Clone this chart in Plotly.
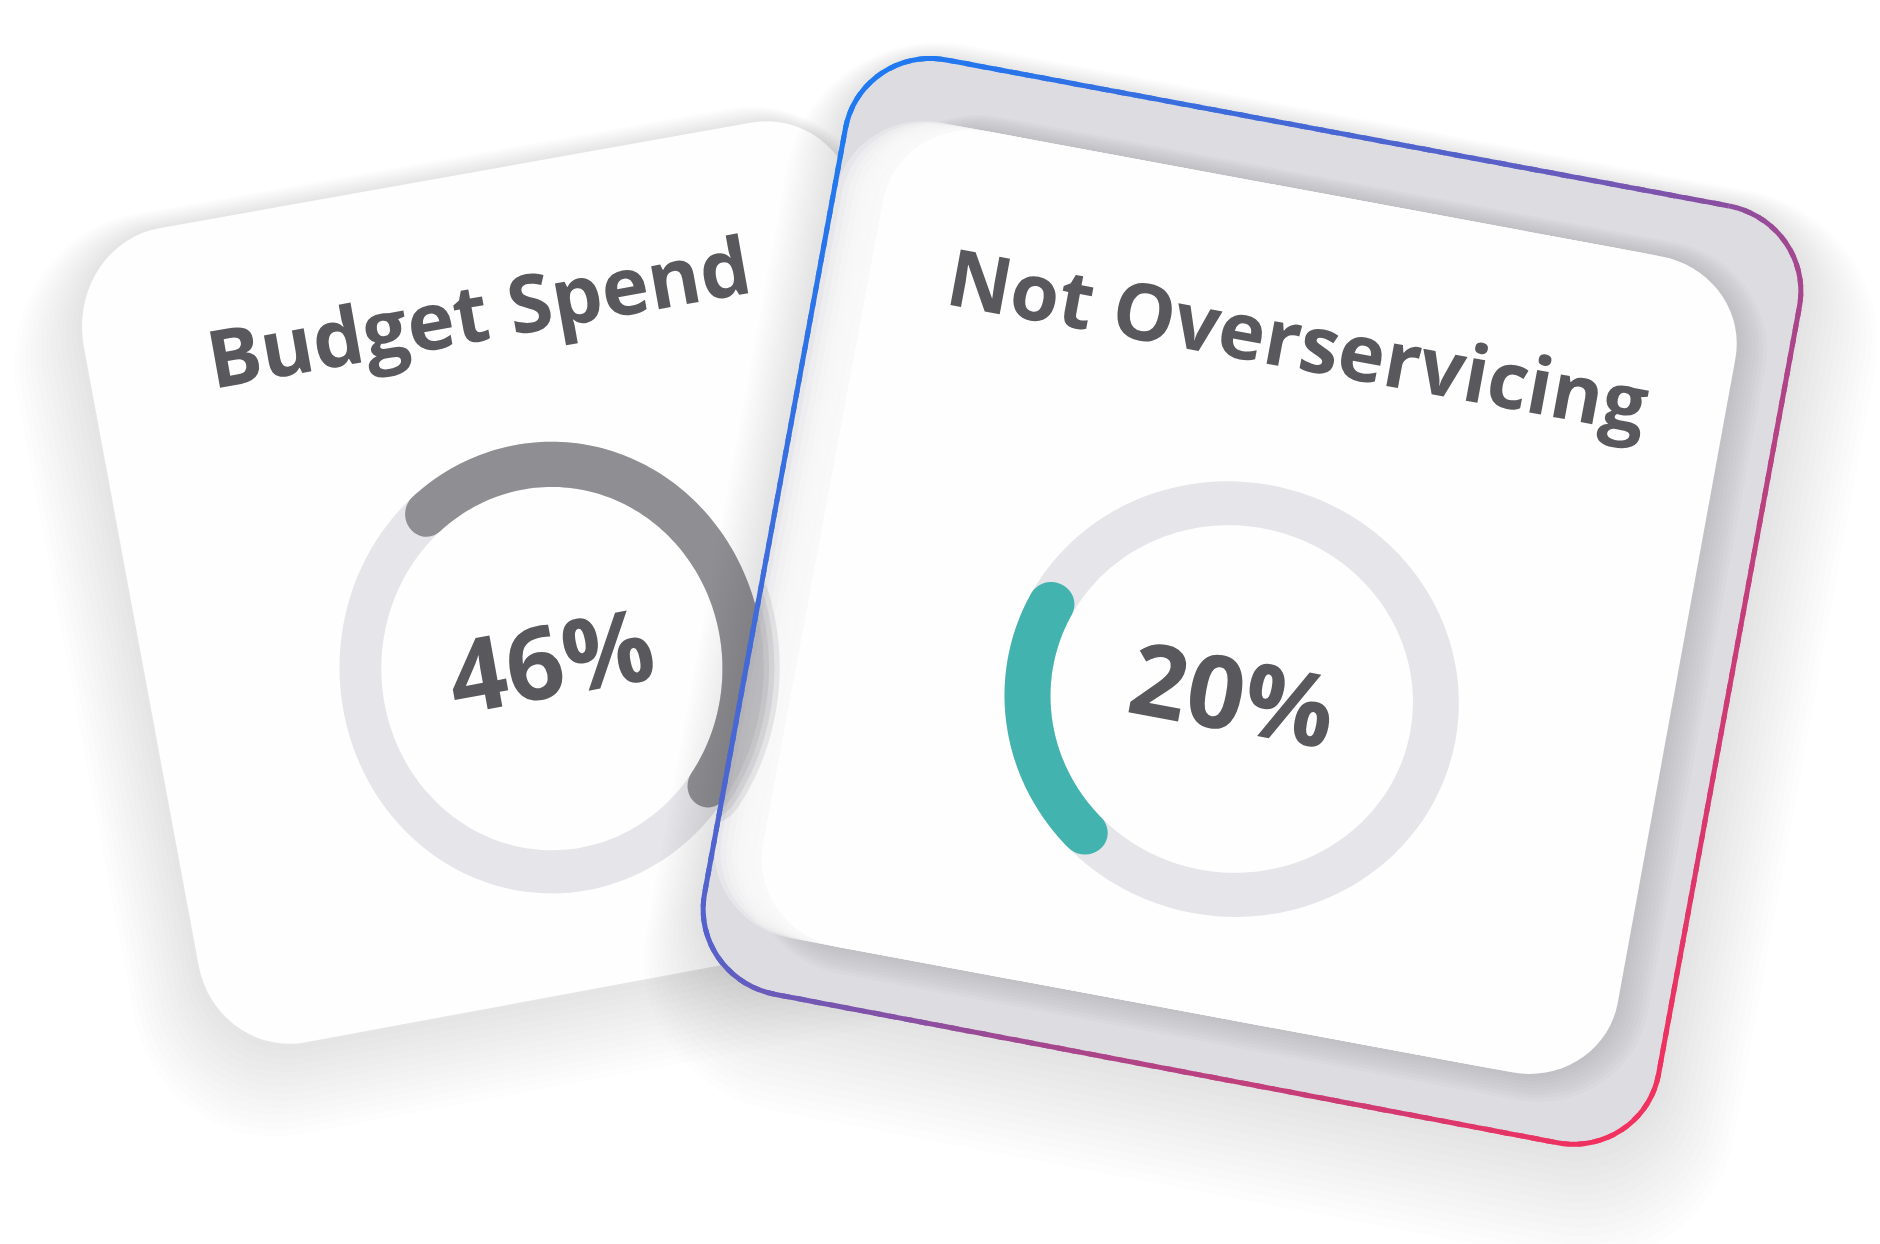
import numpy as np
import plotly.graph_objects as go

W, H = 1880, 1244

# ---------------- data ----------------
titles = ["Budget Spend", "Not Overservicing"]
percent = [46, 20]
value_labels = [f"{p}%" for p in percent]
arc_start_deg = [121, 234]          # local start angle of progress arc (math convention), clockwise sweep
arc_colors = ["#8e8e93", "#42b3ae"]

# ---------------- styles / layout ----------------
TRACK = "#e6e5e9"
TEXT = "#59585c"
FACE = "#fefefe"

card1_quad = [(65, 245), (845, 106), (959, 921), (216, 1059)]          # TL, TR, BR, BL
card2_outer_quad = [(861, 44), (1815, 222), (1643, 1159), (689, 978)]
card2_inner_quad = [(899, 115), (1751, 273), (1602, 1089), (747, 930)]

gauge_local = [dict(c=(0.52, 0.60), ro=0.276, ri=0.222),
               dict(c=(0.50, 0.62), ro=0.262, ri=0.209)]
title_local = [(0.50, 0.158), (0.50, 0.178)]
title_size = [80, 79]
value_dv = [-0.016, -0.009]
value_size = 101

grad_stops = [(0.0, (26, 123, 245)), (0.4, (88, 96, 200)), (0.6, (160, 72, 145)), (1.0, (248, 47, 90))]


def homography(dst):
    src = [(0, 0), (1, 0), (1, 1), (0, 1)]
    A, b = [], []
    for (x, y), (X, Y) in zip(src, dst):
        A.append([x, y, 1, 0, 0, 0, -X * x, -X * y]); b.append(X)
        A.append([0, 0, 0, x, y, 1, -Y * x, -Y * y]); b.append(Y)
    h = np.linalg.solve(np.array(A, float), np.array(b, float))
    M = np.append(h, 1).reshape(3, 3)

    def f(u, v):
        u = np.asarray(u, float); v = np.asarray(v, float)
        d = M[2, 0] * u + M[2, 1] * v + 1
        return (M[0, 0] * u + M[0, 1] * v + M[0, 2]) / d, (M[1, 0] * u + M[1, 1] * v + M[1, 2]) / d
    return f


def rrect_local(r, pad=0.0, n=18):
    lo, hi = -pad, 1 + pad
    rr = r + pad
    us, vs = [], []
    for cx, cy, a0, a1 in [(hi - rr, lo + rr, 90, 0), (hi - rr, hi - rr, 0, -90),
                           (lo + rr, hi - rr, -90, -180), (lo + rr, lo + rr, 180, 90)]:
        a = np.radians(np.linspace(a0, a1, n))
        us.extend(cx + rr * np.cos(a)); vs.extend(cy - rr * np.sin(a))
    return np.array(us), np.array(vs)


def path_of(xs, ys, close=True):
    s = "M" + " L".join(f"{x:.2f},{y:.2f}" for x, y in zip(xs, ys))
    return s + (" Z" if close else "")


shapes = []


def add_fill(xs, ys, color):
    if len(xs) < 3:
        return
    shapes.append(dict(type="path", path=path_of(xs, ys), xref="x", yref="y",
                       fillcolor=color, line=dict(width=0), layer="above"))


def add_path(p, color):
    shapes.append(dict(type="path", path=p, xref="x", yref="y",
                       fillcolor=color, line=dict(width=0), layer="above"))


def ring_path(f, c, ro, ri, n=160):
    a = np.linspace(0, 2 * np.pi, n)
    xo, yo = f(c[0] + ro * np.cos(a), c[1] - ro * np.sin(a))
    xi, yi = f(c[0] + ri * np.cos(a[::-1]), c[1] - ri * np.sin(a[::-1]))
    return path_of(xo, yo) + " " + path_of(xi, yi)


def arc_local(c, ro, ri, a0, sweep, n=120, nc=20):
    cx, cy = c
    rm, hw = (ro + ri) / 2, (ro - ri) / 2
    sg = np.sign(sweep)
    angs = np.radians(np.linspace(a0, a0 + sweep, n))
    us = list(cx + ro * np.cos(angs)); vs = list(cy - ro * np.sin(angs))
    ae = angs[-1]
    er = np.array([np.cos(ae), -np.sin(ae)]); t = sg * np.array([-np.sin(ae), -np.cos(ae)])
    ec = np.array([cx, cy]) + rm * er
    for ph in np.linspace(0, np.pi, nc):
        p = ec + hw * (np.cos(ph) * er + np.sin(ph) * t)
        us.append(p[0]); vs.append(p[1])
    us += list(cx + ri * np.cos(angs[::-1])); vs += list(cy - ri * np.sin(angs[::-1]))
    a0r = angs[0]
    er = np.array([np.cos(a0r), -np.sin(a0r)]); t = sg * np.array([-np.sin(a0r), -np.cos(a0r)])
    sc = np.array([cx, cy]) + rm * er
    for ph in np.linspace(0, np.pi, nc):
        p = sc + hw * (np.cos(ph) * (-er) + np.sin(ph) * (-t))
        us.append(p[0]); vs.append(p[1])
    return np.array(us), np.array(vs)


def clip_halfplane(xs, ys, p0, p1):
    """keep the part of polygon on the right side (screen) of line p0->p1"""
    def side(x, y):
        return (p1[0] - p0[0]) * (y - p0[1]) - (p1[1] - p0[1]) * (x - p0[0])
    pts = list(zip(xs, ys))
    out = []
    n = len(pts)
    for i in range(n):
        a, b = pts[i], pts[(i + 1) % n]
        sa, sb = side(*a), side(*b)
        if sa <= 0:
            out.append(a)
        if (sa <= 0) != (sb <= 0):
            t = sa / (sa - sb)
            out.append((a[0] + t * (b[0] - a[0]), a[1] + t * (b[1] - a[1])))
    if not out:
        return [], []
    ox, oy = zip(*out)
    return list(ox), list(oy)


def grad_color(t):
    t = min(max(t, 0), 1)
    for (t0, c0), (t1, c1) in zip(grad_stops[:-1], grad_stops[1:]):
        if t <= t1:
            k = (t - t0) / (t1 - t0)
            c = [int(round(c0[i] + k * (c1[i] - c0[i]))) for i in range(3)]
            return f"rgb({c[0]},{c[1]},{c[2]})"
    c = grad_stops[-1][1]
    return f"rgb({c[0]},{c[1]},{c[2]})"


f1 = homography(card1_quad)
f2o = homography(card2_outer_quad)
f2i = homography(card2_inner_quad)

R1, R2o, R2i = 0.12, 0.09, 0.105

# ---------- card 1 ----------
for k in range(1, 14):
    u, v = rrect_local(R1, pad=0.005 * k)
    x, y = f1(u, v)
    add_fill(x - 1.2 * k, y + 3.2 * k, "rgba(70,70,80,0.010)")
u, v = rrect_local(R1, pad=0.0012)
x, y = f1(u, v)
add_fill(x, y, "#e6e6ea")
u, v = rrect_local(R1)
x, y = f1(u, v)
add_fill(x, y, FACE)

g1 = gauge_local[0]
add_path(ring_path(f1, g1["c"], g1["ro"], g1["ri"]), TRACK)
u, v = arc_local(g1["c"], g1["ro"], g1["ri"], arc_start_deg[0], -3.6 * percent[0])
x, y = f1(u, v)
add_fill(x, y, arc_colors[0])

# ---------- card 2 drop shadow ----------
for k in range(1, 15):
    u, v = rrect_local(R2o, pad=0.005 * k)
    x, y = f2o(u, v)
    add_fill(x + 0.6 * k, y + 3.6 * k, "rgba(70,70,80,0.011)")

# band base (grey)
u, v = rrect_local(R2o)
x, y = f2o(u, v)
add_fill(x, y, "rgb(221,220,225)")

# darker halo around the inner face
for k in range(1, 9):
    u, v = rrect_local(R2i, pad=0.0032 * k)
    x, y = f2i(u, v)
    add_fill(x + 1.0 * k, y + 0.8 * k, "rgba(130,128,138,0.045)")

# light left band: inner face copies slid left along the card's own u direction
ax0, ay0 = f2i(0.0, 0.5)
ax1, ay1 = f2i(1.0, 0.5)
ud = np.array([ax1 - ax0, ay1 - ay0]); ud = ud / np.hypot(*ud)
for s in range(6, 49, 6):
    u, v = rrect_local(R2i)
    x, y = f2i(u, v)
    add_fill(x - s * ud[0], y - s * ud[1], "rgba(252,252,253,0.32)")

# card 1 progress arc seen blurred through the frosted left band
bx0, by0 = f2o(0.0, 0.15)
bx1, by1 = f2o(0.0, 0.85)
for d in [0.0, 0.007, 0.014, 0.021]:
    u, v = arc_local(g1["c"], g1["ro"] + d, g1["ri"] - d, arc_start_deg[0], -3.6 * percent[0])
    x, y = f1(u, v)
    cx_, cy_ = clip_halfplane(x, y, (float(bx0), float(by0)), (float(bx1), float(by1)))
    add_fill(cx_, cy_, "rgba(142,142,148,0.19)")

# inner face
u, v = rrect_local(R2i)
x, y = f2i(u, v)
add_fill(x, y, FACE)

g2 = gauge_local[1]
add_path(ring_path(f2i, g2["c"], g2["ro"], g2["ri"]), TRACK)
u, v = arc_local(g2["c"], g2["ro"], g2["ri"], arc_start_deg[1], -3.6 * percent[1])
x, y = f2i(u, v)
add_fill(x, y, arc_colors[1])

# gradient border
u, v = rrect_local(R2o, n=40)
u = np.append(u, u[0]); v = np.append(v, v[0])
seg = np.hypot(np.diff(u), np.diff(v))
s = np.concatenate([[0], np.cumsum(seg)])
ss = np.linspace(0, s[-1], 481)
uu = np.interp(ss, s, u); vv = np.interp(ss, s, v)
bx, by = f2o(uu, vv)
step = 2
for i in range(0, len(ss) - 1, step):
    j = min(i + step + 1, len(ss) - 1)
    um, vm = uu[i:j + 1].mean(), vv[i:j + 1].mean()
    col = grad_color(0.6 * um + 0.4 * vm)
    shapes.append(dict(type="path", path=path_of(bx[i:j + 1], by[i:j + 1], close=False),
                       xref="x", yref="y", line=dict(color=col, width=5), layer="above"))


# ---------- text ----------
def angle_at(f, u, v):
    x0, y0 = f(u - 0.01, v); x1, y1 = f(u + 0.01, v)
    return float(np.degrees(np.arctan2(y1 - y0, x1 - x0)))


annotations = []
maps = [f1, f2i]
for i in range(2):
    f = maps[i]
    tu, tv = title_local[i]
    tx, ty = f(tu, tv)
    annotations.append(dict(x=float(tx), y=float(ty), xref="x", yref="y", text=titles[i],
                            showarrow=False, textangle=angle_at(f, tu, tv),
                            font=dict(family="Open Sans", size=title_size[i], color=TEXT, weight=700),
                            xanchor="center", yanchor="middle"))
    cu, cv = gauge_local[i]["c"]
    cv = cv + value_dv[i]
    vx, vy = f(cu, cv)
    annotations.append(dict(x=float(vx), y=float(vy), xref="x", yref="y", text=value_labels[i],
                            showarrow=False, textangle=angle_at(f, cu, cv),
                            font=dict(family="Open Sans", size=value_size, color=TEXT, weight=700),
                            xanchor="center", yanchor="middle"))

fig = go.Figure()
fig.add_trace(go.Scatter(x=[0, W], y=[0, H], mode="markers", marker=dict(opacity=0), hoverinfo="skip",
                         showlegend=False))
fig.update_layout(
    width=W, height=H, autosize=False,
    margin=dict(l=0, r=0, t=0, b=0),
    paper_bgcolor="white", plot_bgcolor="white",
    xaxis=dict(range=[0, W], visible=False, fixedrange=True),
    yaxis=dict(range=[H, 0], visible=False, fixedrange=True),
    shapes=shapes, annotations=annotations, showlegend=False,
)
fig.write_html("out.html", config={"displayModeBar": False},
               post_script="document.body.style.margin='0';document.body.style.overflow='hidden';")
